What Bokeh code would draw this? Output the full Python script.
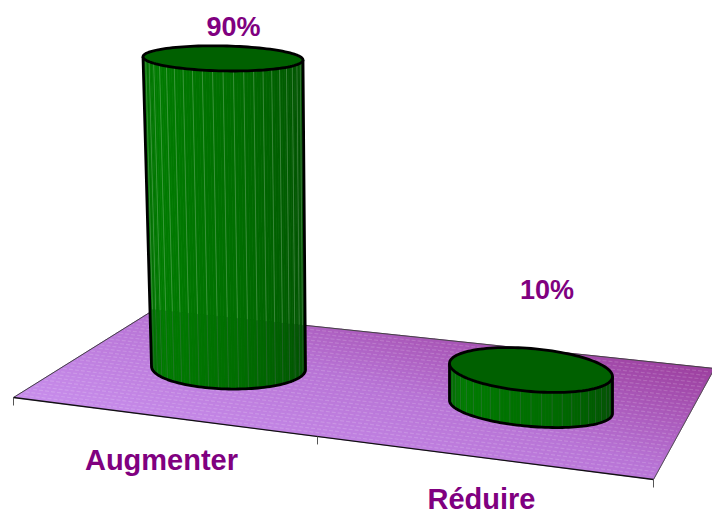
import numpy as np
from bokeh.core.properties import value
from bokeh.embed import file_html
from bokeh.models import Range1d
from bokeh.plotting import figure
from bokeh.resources import INLINE

categories = ["Augmenter", "Réduire"]
percent_values = [90, 10]

PURPLE = "#800080"
WIDTH, HEIGHT = 712, 510

# Receding floor plane: front-left, front-right, back-right, back-left
FLOOR = np.array([[13, 397], [653, 479], [714, 368], [154, 309]], float)
TICK_U = [0, 0.475, 1]

# Cylinder geometry on the floor; nearer columns are drawn a little larger
BASE_CENTER = [(228, 367.5), (530.5, 406.5)]
BASE_RADII = [(77, 21), (81.5, 19.5)]
TOP_RADII = [(80, 12.5), (81.5, 21.5)]
TOP_DX = [-5.5, 0]
TILT = [0.02, 0.08]
PX_PER_PERCENT = [3.44, 3.7]

LABEL_X = [161, 481]
LABEL_Y = [459, 498]
VALUE_X = [233, 546.5]
VALUE_GAP = [31, 80]


def lerp_color(stops, t):
    xs = [s[0] for s in stops]
    rgb = [np.interp(t, xs, [s[1][i] for s in stops]) for i in range(3)]
    return "#%02x%02x%02x" % tuple(int(round(c)) for c in rgb)


def floor_point(u, v):
    a = FLOOR[0] + (FLOOR[1] - FLOOR[0]) * u
    b = FLOOR[3] + (FLOOR[2] - FLOOR[3]) * u
    return a + (b - a) * v


def ellipse(cx, cy, rx, ry, tilt, ang):
    x = cx + rx * np.cos(ang)
    y = cy + ry * np.sin(ang) + tilt * rx * np.cos(ang)
    return x, y


def back_edge_y(x):
    slope = (FLOOR[2, 1] - FLOOR[3, 1]) / (FLOOR[2, 0] - FLOOR[3, 0])
    return FLOOR[3, 1] + slope * (x - FLOOR[3, 0])


p = figure(width=WIDTH, height=HEIGHT, output_backend="svg", toolbar_location=None,
           x_range=Range1d(0, WIDTH), y_range=Range1d(HEIGHT, 0), min_border=0,
           outline_line_color=None, background_fill_color="white", border_fill_color="white")
p.axis.visible = False
p.grid.visible = False

# Floor shading, light at the front-left and deepening towards the back-right
NU, NV = 48, 26
xs, ys, fills = [], [], []
for i in range(NU):
    for j in range(NV):
        u0, u1, v0, v1 = i / NU, (i + 1) / NU, j / NV, (j + 1) / NV
        q = [floor_point(u0, v0), floor_point(u1, v0), floor_point(u1, v1), floor_point(u0, v1)]
        xs.append([c[0] for c in q])
        ys.append([c[1] for c in q])
        t = 0.45 * (u0 + u1) / 2 + 0.55 * (v0 + v1) / 2
        fills.append(lerp_color([(0, (200, 142, 236)), (0.5, (184, 116, 214)), (1, (156, 62, 158))], t))
p.patches(xs, ys, fill_color=fills, line_color=fills, line_width=1)

# Woven texture: staggered rows of short pale dashes across the floor
ROWS = 30
for r in range(1, ROWS):
    v = r / ROWS
    a, b = floor_point(0.004, v), floor_point(0.996, v)
    p.line([a[0], b[0]], [a[1], b[1]], line_color="white", line_alpha=0.16, line_width=1.2,
           line_dash="4 2", line_dash_offset=(r % 2) * 3)

# Floor outline and the category ticks under its front edge
p.line(FLOOR[[0, 3], 0], FLOOR[[0, 3], 1], line_color="#444444", line_width=1)
p.line(FLOOR[[3, 2], 0], FLOOR[[3, 2], 1], line_color="#444444", line_width=1)
p.line(FLOOR[[2, 1], 0], FLOOR[[2, 1], 1], line_color="#555555", line_width=1)
p.line(FLOOR[[0, 1], 0], FLOOR[[0, 1], 1], line_color="#111111", line_width=1.3)
for u in TICK_U:
    c = floor_point(u, 0)
    p.line([c[0], c[0]], [c[1], c[1] + 8], line_color="#555555", line_width=1)

# Cylinders: the height of each one comes from its percentage
SIDE_STOPS = [(0, (0, 104, 0)), (0.2, (0, 124, 0)), (0.55, (0, 110, 0)), (1, (0, 78, 0))]
for k, val in enumerate(percent_values):
    bx, by = BASE_CENTER[k]
    brx, bry = BASE_RADII[k]
    trx, try_ = TOP_RADII[k]
    tilt = TILT[k]
    top_y = by - val * PX_PER_PERCENT[k]
    top_x = bx + TOP_DX[k]

    n = 24
    edges = np.linspace(np.pi, 0, n + 1)
    tx, ty = ellipse(top_x, top_y, trx, try_, tilt, edges)
    ux, uy = ellipse(bx, by, brx, bry, tilt, edges)
    m = 72
    fine = np.linspace(np.pi, 0, m + 1)
    fx, fy = ellipse(top_x, top_y, trx, try_, tilt, fine)
    gx, gy = ellipse(bx, by, brx, bry, tilt, fine)
    sx, sy, sc = [], [], []
    for i in range(m):
        sx.append([fx[i], fx[i + 1], gx[i + 1], gx[i]])
        sy.append([fy[i], fy[i + 1], gy[i + 1], gy[i]])
        sc.append(lerp_color(SIDE_STOPS, (i + 0.5) / m))
    p.patches(sx, sy, fill_color=sc, line_color=sc, line_width=0.8)

    # Hairline seams: pale against the white page, purplish in front of the floor
    for i in range(1, n):
        horizon = back_edge_y(ux[i])
        if uy[i] > horizon > ty[i]:
            frac = (horizon - ty[i]) / (uy[i] - ty[i])
            mx = tx[i] + (ux[i] - tx[i]) * frac
            p.line([tx[i], mx], [ty[i], horizon], line_color="white", line_alpha=0.28, line_width=0.8)
            p.line([mx, ux[i]], [horizon, uy[i]], line_color="#b070c8", line_alpha=0.22, line_width=0.8)
        else:
            p.line([tx[i], ux[i]], [ty[i], uy[i]], line_color="#b070c8", line_alpha=0.22, line_width=0.8)

    # Heavy outline of the side wall
    ox = np.concatenate([fx[:1], gx, fx[-1:]])
    oy = np.concatenate([fy[:1], gy, fy[-1:]])
    p.line(ox, oy, line_color="black", line_width=2.8, line_join="round")

    # Lid
    ang = np.linspace(0, 2 * np.pi, 121)
    lx, ly = ellipse(top_x, top_y, trx, try_, tilt, ang)
    p.patch(lx, ly, fill_color="#006000", line_color="black", line_width=2.8, line_join="round")

p.text(LABEL_X, LABEL_Y, text=categories, text_align="center", text_baseline="alphabetic",
       text_font=value("Liberation Sans"), text_font_style="bold", text_font_size="29px",
       text_color=PURPLE)

value_labels = [f"{v}%" for v in percent_values]
value_y = [BASE_CENTER[k][1] - percent_values[k] * PX_PER_PERCENT[k] - VALUE_GAP[k]
           for k in range(len(percent_values))]
p.text(VALUE_X, value_y, text=value_labels, text_align="center", text_baseline="alphabetic",
       text_font=value("Liberation Sans"), text_font_style="bold", text_font_size="27px",
       text_color=PURPLE)

open("out.html", "w").write(file_html(p, INLINE))
